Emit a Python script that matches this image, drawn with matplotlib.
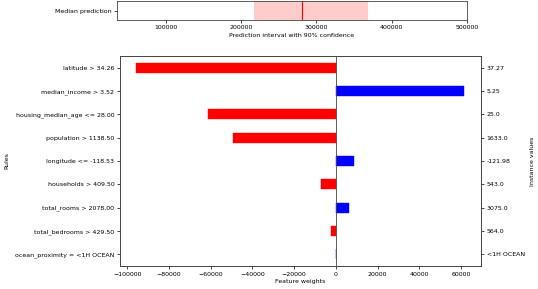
import matplotlib.pyplot as plt

rules = ["latitude > 34.26", "median_income > 3.52", "housing_median_age <= 28.00",
         "population > 1138.50", "longitude <= -118.53", "households > 409.50",
         "total_rooms > 2078.00", "total_bedrooms > 429.50", "ocean_proximity = <1H OCEAN"]
weights = [-95600, 61600, -61200, -49200, 8800, -7300, 6400, -2500, 200]
instance_values = ["37.27", "5.25", "25.0", "1633.0", "-121.98", "543.0", "3075.0", "564.0", "<1H OCEAN"]

median_pred = 281000
interval_low = 217600
interval_high = 368800
pred_xlim = (35000, 500000)

fs = 4.5
plt.rcParams['font.size'] = fs
plt.rcParams['axes.linewidth'] = 0.6
plt.rcParams['xtick.major.width'] = 0.5
plt.rcParams['ytick.major.width'] = 0.5
plt.rcParams['xtick.major.size'] = 2.5
plt.rcParams['ytick.major.size'] = 2.5
plt.rcParams['xtick.major.pad'] = 1.5
plt.rcParams['ytick.major.pad'] = 1.5

fig = plt.figure(figsize=(5.38, 2.89), dpi=100)

# prediction interval panel
ax1 = fig.add_axes([0.2175, 0.931, 0.6505, 0.064])
ax1.fill_betweenx([-0.5, 0.5], interval_low, interval_high, color='r', alpha=0.2, linewidth=0)
ax1.plot([median_pred, median_pred], [-0.5, 0.5], color='r', linewidth=0.8)
ax1.set_xlim(pred_xlim)
ax1.set_ylim(-0.5, 0.5)
ax1.set_yticks([0])
ax1.set_yticklabels(["Median prediction"])
ax1.set_xticks([100000, 200000, 300000, 400000, 500000])
ax1.set_xlabel("Prediction interval with 90% confidence", labelpad=1.5)

# feature weights panel
ax2 = fig.add_axes([0.223, 0.0796, 0.671, 0.7264])
n = len(rules)
ypos = list(range(n - 1, -1, -1))
colors = ['r' if w < 0 else 'b' for w in weights]
ax2.barh(ypos, weights, height=0.42, color=colors, edgecolor=colors, linewidth=0.3)
ax2.axvline(0, color='#444444', linewidth=0.6)
ax2.set_ylim(-0.5, n - 0.5)
ax2.set_xlim(-103500, 69600)
ax2.set_yticks(ypos)
ax2.set_yticklabels(rules)
ax2.set_xticks([-100000, -80000, -60000, -40000, -20000, 0, 20000, 40000, 60000])
ax2.set_xlabel("Feature weights", labelpad=1.5)
ax2.set_ylabel("Rules", labelpad=4)

ax3 = ax2.twinx()
ax3.set_ylim(ax2.get_ylim())
ax3.set_yticks(ypos)
ax3.set_yticklabels(instance_values)
ax3.set_ylabel("Instance values", labelpad=4)

for ax in (ax1, ax2, ax3):
    for s in ax.spines.values():
        s.set_color('#444444')

fig.savefig("out.png", dpi=100)
